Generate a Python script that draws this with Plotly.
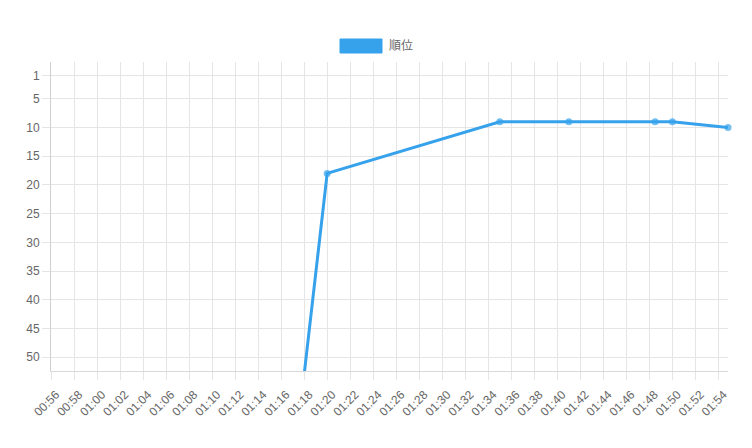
import plotly.graph_objects as go

# ---- data ----
times = ["2020-01-01 01:18:00", "2020-01-01 01:20:00", "2020-01-01 01:35:00",
         "2020-01-01 01:41:00", "2020-01-01 01:48:30", "2020-01-01 01:50:00",
         "2020-01-01 01:54:50"]
ranks = [53, 18, 9, 9, 9, 9, 10]
marker_sizes = [0, 7, 7, 7, 7, 7, 7]
series_name = "順位"
y_ticks = [1, 5, 10, 15, 20, 25, 30, 35, 40, 45, 50]
x_start = "2020-01-01 00:56:00"
x_end = "2020-01-01 01:54:50"

BLUE = "#36A2EB"
GRID = "#e5e5e5"
FONT = "Liberation Sans, Arial, Noto Sans CJK JP, sans-serif"

# page body has an 8px margin; compensate so plot area lands at 51..728 x 62..371
OFF = 8
W, H = 752 - OFF, 448 - OFF
L, R, T, B = 51 - OFF, 24, 62 - OFF, 77
pw, ph = W - L - R, H - T - B

def px(x):
    return (x - OFF - L) / pw

def py(y):
    return (H - B - (y - OFF)) / ph

fig = go.Figure()
fig.add_trace(go.Scatter(
    x=times, y=ranks, mode="lines+markers", name=series_name,
    line=dict(color=BLUE, width=3),
    marker=dict(color=BLUE, size=marker_sizes, line=dict(width=0)),
    showlegend=False, cliponaxis=False,
))

fig.update_layout(
    width=W, height=H,
    margin=dict(l=L, r=R, t=T, b=B, autoexpand=False),
    paper_bgcolor="white", plot_bgcolor="white",
    font=dict(family=FONT, size=12, color="#666"),
    xaxis=dict(
        type="date", range=[x_start, x_end], automargin=False,
        tick0=x_start, dtick=120000, tickformat="%H:%M",
        tickangle=-45, showgrid=True, gridcolor=GRID, gridwidth=1,
        ticks="outside", ticklen=8, tickcolor=GRID,
        ticklabelshift=5, ticklabelstandoff=3,
        showline=True, linecolor="#d9d9d9", linewidth=1,
        zeroline=False, tickfont=dict(size=12, color="#666"),
    ),
    yaxis=dict(
        range=[52.4, -1.4], tickmode="array", tickvals=y_ticks, automargin=False,
        showgrid=True, gridcolor=GRID, gridwidth=1,
        ticks="outside", ticklen=8, tickcolor=GRID,
        showline=True, linecolor="#d0d0d0", linewidth=1,
        zeroline=False, tickfont=dict(size=12, color="#666"),
    ),
    shapes=[dict(
        type="rect", xref="paper", yref="paper",
        x0=px(340), x1=px(382), y0=py(53), y1=py(39),
        fillcolor=BLUE, line=dict(color=BLUE, width=1),
    )],
    annotations=[dict(
        text=series_name, xref="paper", yref="paper",
        x=px(387), y=py(46), xanchor="left", yanchor="middle",
        showarrow=False, font=dict(family=FONT, size=12, color="#666"),
    )],
)

fig.write_html("out.html")
